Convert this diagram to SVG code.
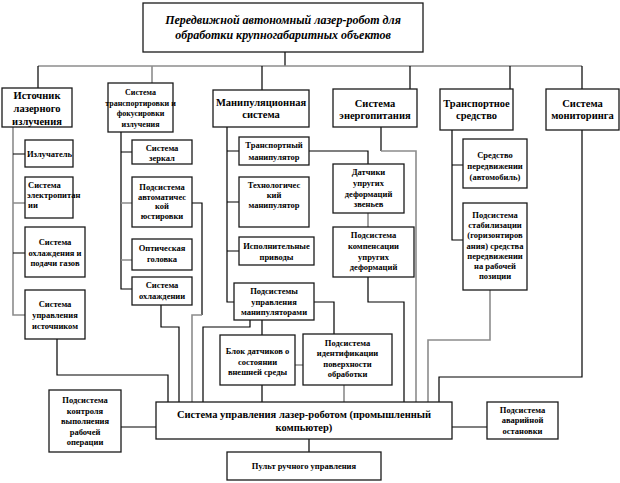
<svg xmlns="http://www.w3.org/2000/svg" width="620" height="483" viewBox="0 0 620 483">
<style>
.box{fill:#fff;stroke:#1a1a1a;stroke-width:1.3}
.c{fill:none;stroke:#000;stroke-width:1.2}
.g{fill:none;stroke:#8c8c8c;stroke-width:1.6}
text{font-family:"Liberation Serif","Times New Roman",serif;font-weight:bold;fill:#000;text-anchor:middle}
.tt{font-size:12px;font-style:italic}
.t1{font-size:10.5px}
.t0{font-size:8px}
.t2{font-size:8.5px}
.tl{text-anchor:start}
.tm{font-size:10.5px}
</style>
<rect width="620" height="483" fill="#fff"/>
<g id="connectors">
<path class="c" d="M285,52V66"/>
<path class="g" d="M38,66H582"/>
<path class="c" d="M38,66V88M262,66V90M410,66V89M510,66V89M582,66V89"/>
<path class="g" d="M152,66V83"/>
<path class="g" d="M13,127V315H25M13,203H25"/>
<path class="c" d="M13,154H25M13,253H25"/>
<path class="c" d="M57,339V375H168V402"/>
<path class="c" d="M121,132V289H132M121,152H132"/>
<path class="g" d="M121,203H132M121,260H132"/>
<path class="c" d="M192,203H202V315"/>
<path class="g" d="M202,315H192V402"/>
<path class="c" d="M161,305V327H179V402"/>
<path class="c" d="M250,320V327H203V402"/>
<path class="c" d="M227,127V302H234M227,151H239M227,202H239M227,251H239"/>
<path class="c" d="M309,151H368V164"/>
<path class="g" d="M368,213V227"/>
<path class="c" d="M368,277V302H404V402"/>
<path class="c" d="M381,127V151"/>
<path class="g" d="M381,151H416V402"/>
<path class="c" d="M314,302H334V334"/>
<path class="c" d="M262,320V335M262,385V402"/>
<path class="g" d="M295,365H303M344,385V402"/>
<path class="c" d="M452,130V240H463M452,165H463"/>
<path class="g" d="M490,290V340H428V402"/>
<path class="c" d="M582,130V377H439V402"/>
<path class="c" d="M121,427H156M452,427H487M309,439V452"/>
</g>
<g id="title"><rect class="box" x="143" y="3" width="280" height="49"/>
<text class="tt" x="283" y="24">Передвижной автономный лазер-робот для</text>
<text class="tt" x="283" y="39">обработки крупногабаритных объектов</text></g>
<g id="source"><rect class="box" x="2" y="88" width="70" height="39"/>
<text class="t1" x="37" y="99">Источник</text><text class="t1" x="37" y="112">лазерного</text><text class="t1" x="37" y="125">излучения</text></g>
<g id="transport-focus"><rect class="box" x="108" y="83" width="65" height="49"/>
<text class="t0" x="140.5" y="95">Система</text><text class="t0" x="140.5" y="106">транспортировки и</text><text class="t0" x="140.5" y="116">фокусировки</text><text class="t0" x="140.5" y="127">излучения</text></g>
<g id="manip"><rect class="box" x="213" y="90" width="96" height="37"/>
<text class="t1" x="261" y="106">Манипуляционная</text><text class="t1" x="261" y="118">система</text></g>
<g id="energy"><rect class="box" x="333" y="89" width="84" height="38"/>
<text class="t1" x="375" y="107">Система</text><text class="t1" x="375" y="119">энергопитания</text></g>
<g id="vehicle"><rect class="box" x="440" y="89" width="73" height="41"/>
<text class="t1" x="476.5" y="107">Транспортное</text><text class="t1" x="476.5" y="119">средство</text></g>
<g id="monitoring"><rect class="box" x="546" y="89" width="73" height="41"/>
<text class="t1" x="582.5" y="107">Система</text><text class="t1" x="582.5" y="119">мониторинга</text></g>
<g id="emitter"><rect class="box" x="25" y="140" width="48" height="27"/>
<text class="t2 tl" x="27" y="157">Излучатель</text></g>
<g id="power"><rect class="box" x="25" y="177" width="48" height="41"/>
<text class="t2 tl" x="28" y="188">Система</text><text class="t2 tl" x="27" y="198">электропитан</text><text class="t2 tl" x="28" y="208">ии</text></g>
<g id="cooling-gas"><rect class="box" x="25" y="227" width="60" height="50"/>
<text class="t2" x="55" y="245">Система</text><text class="t2" x="55" y="256">охлаждения и</text><text class="t2" x="55" y="266">подачи газов</text></g>
<g id="source-control"><rect class="box" x="25" y="290" width="60" height="49"/>
<text class="t2" x="55" y="307">Система</text><text class="t2" x="55" y="318">управления</text><text class="t2" x="55" y="329">источником</text></g>
<g id="mirrors"><rect class="box" x="132" y="140" width="60" height="24"/>
<text class="t2" x="162" y="151">Система</text><text class="t2" x="162" y="161">зеркал</text></g>
<g id="alignment"><rect class="box" x="132" y="177" width="60" height="50"/>
<text class="t2" x="162" y="190">Подсистема</text><text class="t2" x="162" y="200">автоматичес</text><text class="t2" x="162" y="209">кой</text><text class="t2" x="162" y="219">юстировки</text></g>
<g id="optical-head"><rect class="box" x="132" y="239" width="60" height="31"/>
<text class="t2" x="162" y="251">Оптическая</text><text class="t2" x="162" y="262">головка</text></g>
<g id="cooling"><rect class="box" x="132" y="277" width="60" height="28"/>
<text class="t2" x="162" y="288">Система</text><text class="t2" x="162" y="299">охлаждении</text></g>
<g id="transport-manip"><rect class="box" x="239" y="137" width="70" height="28"/>
<text class="t2" x="274" y="148">Транспортный</text><text class="t2" x="274" y="160">манипулятор</text></g>
<g id="tech-manip"><rect class="box" x="239" y="177" width="70" height="50"/>
<text class="t2" x="274" y="188">Технологичес</text><text class="t2" x="274" y="198">кий</text><text class="t2" x="274" y="208">манипулятор</text></g>
<g id="actuators"><rect class="box" x="239" y="237" width="75" height="28"/>
<text class="t2" x="276.5" y="249">Исполнительные</text><text class="t2" x="276.5" y="260">приводы</text></g>
<g id="manip-control"><rect class="box" x="234" y="283" width="80" height="37"/>
<text class="t2" x="274" y="294">Подсистемы</text><text class="t2" x="274" y="305">управления</text><text class="t2" x="274" y="315">манипуляторами</text></g>
<g id="env-sensors"><rect class="box" x="220" y="335" width="75" height="50"/>
<text class="t2" x="257.5" y="354">Блок датчиков о</text><text class="t2" x="257.5" y="365">состоянии</text><text class="t2" x="257.5" y="375">внешней среды</text></g>
<g id="surface-id"><rect class="box" x="303" y="334" width="89" height="51"/>
<text class="t2" x="347.5" y="346">Подсистема</text><text class="t2" x="347.5" y="356">идентификации</text><text class="t2" x="347.5" y="367">поверхности</text><text class="t2" x="347.5" y="377">обработки</text></g>
<g id="deform-sensors"><rect class="box" x="333" y="164" width="71" height="49"/>
<text class="t2" x="368.5" y="175">Датчики</text><text class="t2" x="368.5" y="186">упругих</text><text class="t2" x="368.5" y="197">деформаций</text><text class="t2" x="368.5" y="207">звеньев</text></g>
<g id="deform-comp"><rect class="box" x="333" y="227" width="81" height="50"/>
<text class="t2" x="373.5" y="238">Подсистема</text><text class="t2" x="373.5" y="249">компенсации</text><text class="t2" x="373.5" y="260">упругих</text><text class="t2" x="373.5" y="270">деформаций</text></g>
<g id="vehicle-car"><rect class="box" x="463" y="139" width="64" height="49"/>
<text class="t2" x="495" y="158">Средство</text><text class="t2" x="495" y="169">передвижении</text><text class="t2" x="495" y="180">(автомобиль)</text></g>
<g id="stabilization"><rect class="box" x="463" y="203" width="64" height="87"/>
<text class="t2" x="495" y="218">Подсистема</text><text class="t2" x="495" y="228">стабилизации</text><text class="t2" x="495" y="238">(горизонтиров</text><text class="t2" x="495" y="249">ания) средства</text><text class="t2" x="495" y="259">передвижении</text><text class="t2" x="495" y="269">на рабочей</text><text class="t2" x="495" y="279">позиции</text></g>
<g id="main-control"><rect class="box" x="156" y="402" width="296" height="37"/>
<text class="tm" x="304" y="418">Система управления лазер-роботом (промышленный</text><text class="tm" x="304" y="431">компьютер)</text></g>
<g id="operation-control"><rect class="box" x="49" y="390" width="72" height="62"/>
<text class="t2" x="85" y="403">Подсистема</text><text class="t2" x="85" y="414">контроля</text><text class="t2" x="85" y="424">выполнения</text><text class="t2" x="85" y="435">рабочей</text><text class="t2" x="85" y="445">операции</text></g>
<g id="emergency-stop"><rect class="box" x="487" y="402" width="71" height="37"/>
<text class="t2" x="522.5" y="413">Подсистема</text><text class="t2" x="522.5" y="423">аварийной</text><text class="t2" x="522.5" y="434">остановки</text></g>
<g id="manual-panel"><rect class="box" x="227" y="452" width="154" height="28"/>
<text class="t2" x="304" y="469">Пульт ручного управления</text></g>
</svg>
